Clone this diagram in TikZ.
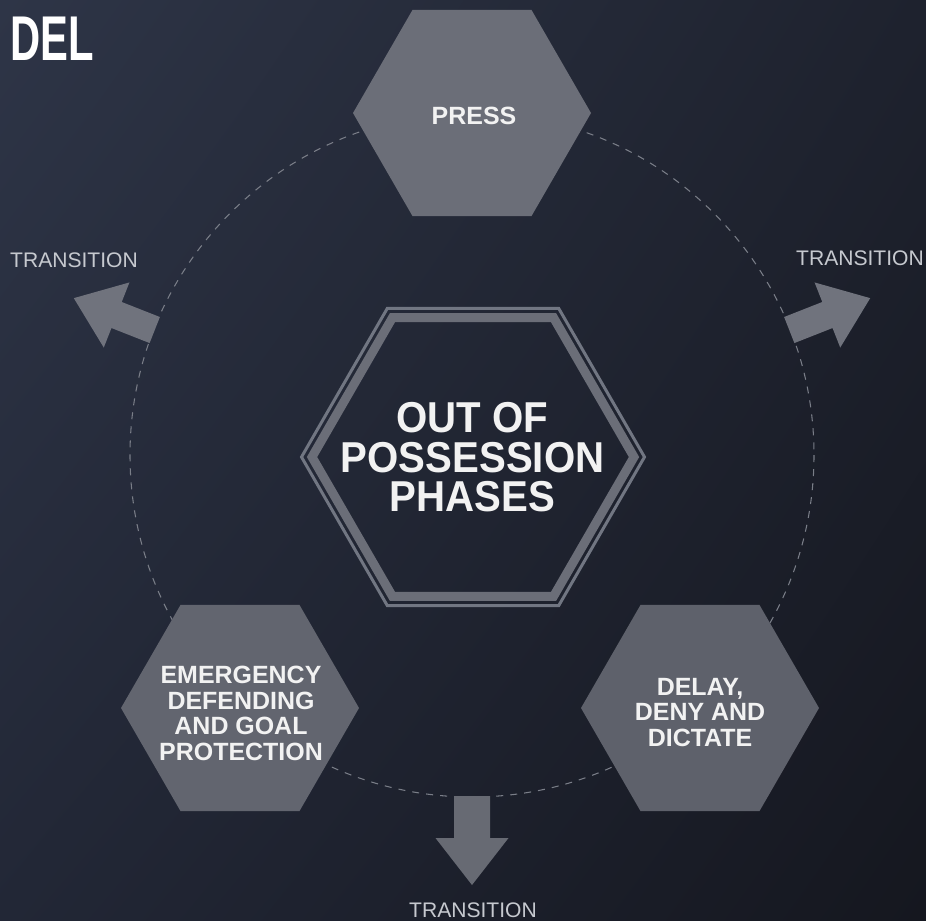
\documentclass[tikz,border=0pt]{standalone}
\usepackage{fontspec}
\usepackage{graphicx}
\usetikzlibrary{shadings}
\setmainfont{Liberation Sans}
\newfontfamily\condfont[FakeStretch=0.93]{Liberation Sans}
\definecolor{bgUL}{HTML}{2E3547}
\definecolor{bgUR}{HTML}{1E222E}
\definecolor{bgLL}{HTML}{222736}
\definecolor{bgLR}{HTML}{15171F}
\definecolor{hexA}{HTML}{6B6E78}
\definecolor{hexB}{HTML}{62656F}
\definecolor{hexC}{HTML}{5E616B}
\definecolor{arrowcol}{HTML}{70737D}
\definecolor{ringcol}{HTML}{7E828D}
\definecolor{dashcol}{HTML}{7A7E88}
\definecolor{transcol}{HTML}{C6C9CF}
\tikzset{
  phasetext/.style={inner sep=0pt, align=center, text=white!95!black,
    font=\bfseries\fontsize{14.2}{14.6}\selectfont},
  coretext/.style={inner sep=0pt, align=center, text=white!95!black,
    font=\condfont\bfseries\fontsize{24.6}{22.5}\selectfont},
  translabel/.style={inner sep=0pt, anchor=base, text=transcol,
    font=\fontsize{12}{12}\selectfont},
  dashring/.style={draw=dashcol, line width=0.6pt, dash pattern=on 4pt off 4pt},
}
\begin{document}
\begin{tikzpicture}[x=0.02cm,y=-0.02cm]
\useasboundingbox (0,0) rectangle (926,920);
\shade[upper left=bgUL, upper right=bgUR, lower left=bgLL, lower right=bgLR] (0,0) rectangle (926,920);

\coordinate (O) at (472,455);
\coordinate (pressc) at (472,113);
\coordinate (emc) at (240,708);
\coordinate (delc) at (700,708);
\coordinate (corec) at (473,457);

% dashed ring
\draw[dashring] (O) circle [radius=342];

% transition arrows
\begin{scope}[shift={(O)}, rotate=158.5]
  \fill[arrowcol] (341,-14) -- (382,-14) -- (382,-35) -- (428,0) -- (382,35) -- (382,14) -- (341,14) -- cycle;
\end{scope}
\begin{scope}[shift={(O)}, rotate=21.5]
  \fill[arrowcol] (341,-14) -- (382,-14) -- (382,-35) -- (428,0) -- (382,35) -- (382,14) -- (341,14) -- cycle;
\end{scope}
\begin{scope}[shift={(O)}, rotate=270]
  \fill[arrowcol!92!black] (341,-18) -- (383,-18) -- (383,-36.5) -- (430,0) -- (383,36.5) -- (383,18) -- (341,18) -- cycle;
\end{scope}

% phase hexagons
\fill[hexA, shift={(pressc)}] (0:119) -- (60:119) -- (120:119) -- (180:119) -- (240:119) -- (300:119) -- cycle;
\fill[hexB, shift={(emc)}] (0:119) -- (60:119) -- (120:119) -- (180:119) -- (240:119) -- (300:119) -- cycle;
\fill[hexC, shift={(delc)}] (0:119) -- (60:119) -- (120:119) -- (180:119) -- (240:119) -- (300:119) -- cycle;

% central hexagon (double outline)
\draw[ringcol!110, line width=1.7pt, shift={(corec)}] (0:171.5) -- (60:171.5) -- (120:171.5) -- (180:171.5) -- (240:171.5) -- (300:171.5) -- cycle;
\draw[ringcol!85!black, line width=5.1pt, shift={(corec)}] (0:161) -- (60:161) -- (120:161) -- (180:161) -- (240:161) -- (300:161) -- cycle;

% texts
\node[phasetext] (press) at (474,116) {PRESS};
\node[phasetext] (emergency) at (241,713.5) {EMERGENCY\\DEFENDING\\AND GOAL\\PROTECTION};
\node[phasetext] (delay) at (700,712.5) {DELAY,\\DENY AND\\DICTATE};
\node[coretext] (core) at (472.5,457.5) {OUT OF\\POSSESSION\\PHASES};

\node[translabel] (transL) at (74,267) {TRANSITION};
\node[translabel] (transR) at (860,265) {TRANSITION};
\node[translabel] (transB) at (473,917) {TRANSITION};

\node[anchor=base west, inner sep=0pt, text=white, font=\bfseries\fontsize{36}{36}\selectfont] (title) at (10,60) {\scalebox{0.66}[1]{DEL}};
\end{tikzpicture}
\end{document}
